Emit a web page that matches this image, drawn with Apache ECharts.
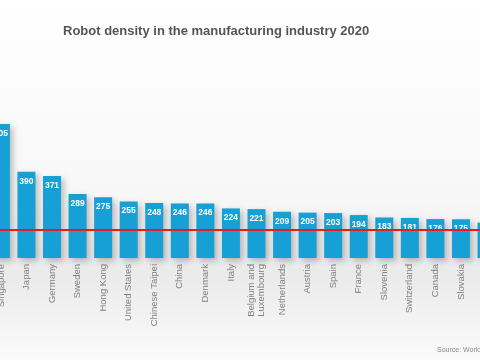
<!DOCTYPE html>
<html><head><meta charset="utf-8">
<script src="https://cdn.jsdelivr.net/npm/echarts@6/dist/echarts.min.js"></script>
<style>html,body{margin:0;padding:0;background:#fff}#c{width:480px;height:360px}</style>
</head><body><div id="c"></div>
<script>
var categories = ['Singapore','Japan','Germany','Sweden','Hong Kong','United States','Chinese Taipei','China','Denmark','Italy','Belgium and\nLuxembourg','Netherlands','Austria','Spain','France','Slovenia','Switzerland','Canada','Slovakia','Finland'];
var density = [605,390,371,289,275,255,248,246,246,224,221,209,205,203,194,183,181,176,175,160];
var worldAverage = 126;
var titleText = 'Robot density in the manufacturing industry 2020';
var sourceText = 'Source: World Robotics 2021';

var chart = echarts.init(document.getElementById('c'), null, {renderer:'canvas'});
chart.setOption({
  animation:false,
  backgroundColor:{type:'linear',x:0,y:0,x2:0,y2:1,colorStops:[
    {offset:0,color:'#ffffff'},{offset:0.55,color:'#f7f7f7'},{offset:0.76,color:'#eaeaea'},{offset:1,color:'#fbfbfb'}]},
  title:{text:titleText,left:58,top:20,
    textStyle:{fontFamily:'Liberation Sans',fontSize:13,fontWeight:'bold',color:'#555555'}},
  graphic:[{type:'text',left:437,top:347,style:{text:sourceText,fontFamily:'Liberation Sans',fontSize:7,fill:'#8a8a8a'}}],
  grid:{left:-11.9,right:-19.3,top:103.1,bottom:102,outerBoundsMode:'none',containLabel:false},
  xAxis:{type:'category',data:categories,
    axisLine:{show:false},axisTick:{show:false},
    axisLabel:{rotate:90,interval:0,margin:6,fontFamily:'Liberation Sans',fontSize:9.5,color:'#808080',lineHeight:10}},
  yAxis:{type:'value',min:0,max:700,show:false,splitLine:{show:false}},
  series:[{type:'bar',data:density,barWidth:18,
    itemStyle:{color:'#17a0d5',shadowColor:'rgba(0,0,0,0.25)',shadowBlur:6,shadowOffsetX:3,shadowOffsetY:3},
    label:{show:true,position:'insideTop',distance:5,color:'#ffffff',fontFamily:'Liberation Sans',fontWeight:'bold',fontSize:8.5},
    markLine:{silent:true,symbol:'none',label:{show:false},
      lineStyle:{color:'#e0201c',width:2,type:'solid'},
      data:[{yAxis:worldAverage}]}
  }]
});
</script></body></html>
